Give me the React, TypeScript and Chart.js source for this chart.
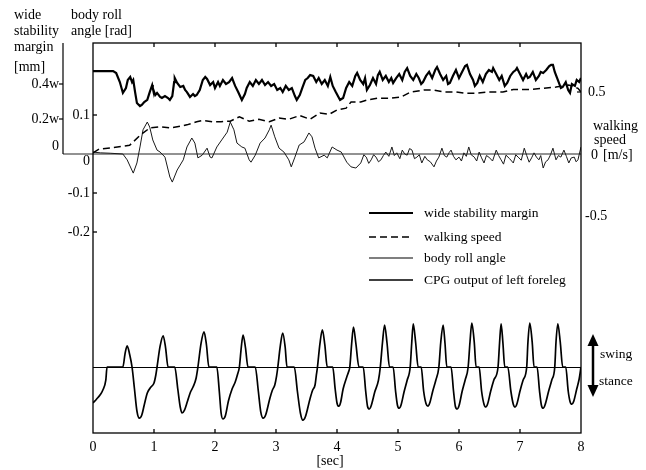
import React, { useEffect, useRef } from "react";
import { Chart, registerables } from "chart.js";

Chart.register(...registerables);

// ---------- data ----------
const timeTicks = [0, 1, 2, 3, 4, 5, 6, 7, 8];
const rollTicks = [0.1, 0, -0.1, -0.2];
const rollTickLabels = ["0.1", "0", "-0.1", "-0.2"];
const marginTicks = [0.4, 0.2, 0];
const marginTickLabels = ["0.4w", "0.2w", "0"];
const speedTicks = [0.5, 0, -0.5];
const speedTickLabels = ["0.5", "0", "-0.5"];
const legendLabels = [
  "wide stability margin",
  "walking speed",
  "body roll angle",
  "CPG output of left foreleg",
];

// [time s, margin in units of w]
const stabilityMargin: [number, number][] = [
  [0.00,0.474],[0.33,0.474],[0.38,0.463],[0.44,0.411],[0.49,0.349],[0.54,0.377],[0.57,0.423],[0.61,0.440],[0.64,0.411],[0.66,0.423],
  [0.69,0.354],[0.72,0.291],[0.77,0.274],[0.80,0.280],[0.84,0.297],[0.89,0.309],[0.93,0.354],[0.97,0.394],[0.98,0.377],[1.02,0.337],
  [1.05,0.349],[1.10,0.326],[1.13,0.320],[1.18,0.331],[1.23,0.320],[1.26,0.309],[1.30,0.331],[1.33,0.411],[1.34,0.434],[1.38,0.406],
  [1.43,0.383],[1.48,0.389],[1.51,0.366],[1.54,0.354],[1.59,0.326],[1.64,0.343],[1.67,0.331],[1.70,0.337],[1.75,0.366],[1.80,0.423],
  [1.84,0.440],[1.87,0.429],[1.92,0.394],[1.97,0.411],[2.00,0.377],[2.05,0.411],[2.08,0.389],[2.13,0.423],[2.18,0.400],[2.23,0.411],
  [2.28,0.434],[2.33,0.389],[2.38,0.354],[2.41,0.331],[2.44,0.309],[2.49,0.343],[2.52,0.377],[2.57,0.411],[2.62,0.389],[2.67,0.423],
  [2.72,0.400],[2.77,0.423],[2.82,0.394],[2.87,0.411],[2.92,0.389],[2.97,0.400],[3.02,0.366],[3.07,0.377],[3.11,0.354],[3.16,0.389],
  [3.21,0.366],[3.26,0.377],[3.31,0.331],[3.34,0.309],[3.39,0.337],[3.43,0.377],[3.48,0.423],[3.52,0.434],[3.56,0.451],[3.61,0.446],
  [3.66,0.411],[3.70,0.434],[3.75,0.400],[3.80,0.423],[3.85,0.389],[3.89,0.440],[3.93,0.389],[3.98,0.354],[4.05,0.309],[4.10,0.320],
  [4.15,0.377],[4.20,0.411],[4.25,0.389],[4.30,0.446],[4.33,0.463],[4.38,0.423],[4.43,0.400],[4.46,0.434],[4.49,0.366],[4.54,0.394],
  [4.59,0.434],[4.64,0.400],[4.67,0.451],[4.70,0.469],[4.75,0.423],[4.80,0.446],[4.85,0.411],[4.89,0.434],[4.92,0.406],[4.97,0.434],
  [5.02,0.457],[5.07,0.423],[5.11,0.469],[5.15,0.491],[5.20,0.446],[5.25,0.423],[5.30,0.457],[5.34,0.434],[5.38,0.400],[5.41,0.411],
  [5.46,0.446],[5.51,0.469],[5.56,0.434],[5.61,0.480],[5.64,0.497],[5.69,0.457],[5.74,0.423],[5.79,0.446],[5.82,0.400],[5.85,0.406],
  [5.90,0.446],[5.95,0.480],[6.00,0.434],[6.05,0.469],[6.10,0.503],[6.13,0.509],[6.18,0.457],[6.23,0.423],[6.26,0.389],[6.30,0.406],
  [6.34,0.446],[6.39,0.411],[6.44,0.457],[6.49,0.480],[6.54,0.469],[6.56,0.491],[6.61,0.457],[6.66,0.423],[6.70,0.446],[6.75,0.389],
  [6.79,0.406],[6.84,0.446],[6.89,0.469],[6.93,0.480],[6.95,0.491],[7.00,0.457],[7.05,0.423],[7.10,0.457],[7.13,0.434],[7.16,0.440],
  [7.21,0.469],[7.26,0.423],[7.31,0.446],[7.34,0.469],[7.38,0.463],[7.43,0.480],[7.48,0.503],[7.51,0.509],[7.54,0.509],[7.57,0.469],
  [7.62,0.423],[7.67,0.377],[7.70,0.383],[7.75,0.411],[7.79,0.366],[7.82,0.349],[7.85,0.400],[7.90,0.389],[7.93,0.423],[7.97,0.411],
  [8.00,0.434],
];

// [time s, speed m/s]
const walkingSpeed: [number, number][] = [
  [0,0.01],[0.1,0.04],[0.3,0.05],[0.6,0.07],[0.77,0.15],[0.93,0.21],[1.1,0.22],[1.26,0.21],[1.38,0.22],[1.54,0.235],
  [1.7,0.26],[1.8,0.27],[1.97,0.26],[2.1,0.26],[2.25,0.265],[2.4,0.30],[2.56,0.265],[2.72,0.28],[2.89,0.26],[3.05,0.29],
  [3.21,0.28],[3.39,0.31],[3.56,0.28],[3.72,0.33],[3.87,0.32],[4.0,0.355],[4.15,0.37],[4.23,0.42],[4.39,0.42],[4.49,0.435],
  [4.66,0.45],[4.89,0.45],[5.05,0.46],[5.21,0.50],[5.43,0.516],[5.59,0.516],[5.75,0.50],[5.95,0.50],[6.1,0.49],[6.28,0.49],
  [6.49,0.50],[6.72,0.50],[6.89,0.52],[7.15,0.52],[7.38,0.53],[7.59,0.54],[7.80,0.556],[7.95,0.53],[8.0,0.50],
];

// [time s, roll rad]
const bodyRoll: [number, number][] = [
  [0,0.005],[0.12,0.003],[0.28,0.002],[0.49,0],[0.56,-0.015],[0.66,-0.049],[0.72,-0.023],[0.77,0.018],[0.82,0.062],[0.89,0.082],
  [0.93,0.069],[0.98,0.036],[1.05,0.010],[1.10,0.005],[1.18,-0.008],[1.26,-0.059],[1.30,-0.072],[1.38,-0.041],[1.48,-0.015],[1.54,0.018],
  [1.62,0.041],[1.67,0.028],[1.72,-0.010],[1.79,-0.003],[1.87,0.015],[1.92,-0.008],[1.95,-0.010],[2.03,0.018],[2.11,0.036],[2.20,0.056],
  [2.25,0.082],[2.31,0.062],[2.36,0.028],[2.44,0.018],[2.49,0.015],[2.56,-0.015],[2.59,-0.021],[2.66,-0.003],[2.74,0.028],[2.82,0.041],
  [2.89,0.062],[2.92,0.074],[2.98,0.044],[3.05,0.015],[3.13,0.005],[3.21,-0.015],[3.25,-0.033],[3.31,-0.008],[3.38,0.023],[3.46,0.031],
  [3.54,0.054],[3.59,0.044],[3.64,0.015],[3.70,-0.010],[3.79,-0.003],[3.84,-0.010],[3.92,0.018],[4.00,0.010],[4.07,0.005],[4.16,-0.021],
  [4.23,-0.033],[4.31,-0.036],[4.39,-0.023],[4.44,-0.002],[4.48,-0.008],[4.52,-0.024],[4.56,-0.015],[4.60,-0.002],[4.64,-0.008],[4.68,-0.020],
  [4.72,-0.015],[4.76,-0.004],[4.80,0.005],[4.85,-0.006],[4.90,0.018],[4.94,-0.004],[4.98,0.003],[5.03,-0.012],[5.07,0.010],[5.11,0.000],
  [5.15,-0.003],[5.19,0.014],[5.23,0.010],[5.27,-0.012],[5.31,-0.008],[5.35,-0.002],[5.39,-0.023],[5.44,-0.006],[5.48,-0.015],[5.53,-0.020],
  [5.59,-0.033],[5.63,-0.018],[5.67,-0.008],[5.72,0.015],[5.76,-0.004],[5.80,-0.008],[5.84,0.004],[5.87,0.010],[5.91,-0.006],[5.95,-0.015],
  [6.00,-0.008],[6.04,-0.018],[6.08,0.003],[6.12,-0.006],[6.16,0.018],[6.20,-0.002],[6.25,-0.008],[6.29,-0.018],[6.33,0.005],[6.37,-0.010],
  [6.41,-0.023],[6.45,-0.004],[6.49,-0.008],[6.55,-0.018],[6.61,0.010],[6.65,-0.004],[6.69,-0.015],[6.73,-0.026],[6.77,-0.003],[6.83,-0.012],
  [6.89,-0.023],[6.93,-0.002],[6.97,-0.008],[7.02,-0.016],[7.07,0.015],[7.11,-0.004],[7.15,-0.021],[7.19,-0.010],[7.23,0.003],[7.27,-0.008],
  [7.31,-0.015],[7.34,-0.004],[7.38,-0.036],[7.42,-0.020],[7.46,-0.015],[7.50,-0.002],[7.54,0.015],[7.59,-0.015],[7.63,-0.004],[7.67,-0.008],
  [7.72,0.010],[7.76,-0.006],[7.80,-0.023],[7.84,-0.010],[7.89,-0.008],[7.92,-0.020],[7.95,-0.015],[8.00,0.018],
];

// [time s, CPG output (a.u.)]
const cpgOutput: [number, number][] = [
  [0.00,-0.90],[0.06,-0.80],[0.115,-0.70],[0.16,-0.58],[0.21,-0.33],[0.23,0],[0.49,0],[0.525,0.33],[0.56,0.53],[0.60,0.32],[0.64,0],
  [0.68,-0.55],[0.72,-1.10],[0.76,-1.28],[0.80,-1.20],[0.84,-0.95],[0.89,-0.65],[0.95,-0.50],[1.00,-0.40],[1.03,-0.20],[1.05,0],[1.10,0.52],[1.15,0.78],[1.19,0.48],[1.23,0],[1.34,0],
  [1.39,-0.55],[1.43,-1.00],[1.46,-1.15],[1.50,-1.08],[1.55,-0.85],[1.60,-0.62],[1.64,-0.50],[1.69,-0.28],[1.72,0],[1.77,0.58],[1.82,0.88],[1.86,0.55],[1.90,0],[2.03,0],
  [2.07,-0.60],[2.10,-1.15],[2.13,-1.30],[2.17,-1.22],[2.22,-0.85],[2.28,-0.55],[2.33,-0.38],[2.37,-0.18],[2.40,0],[2.43,0.48],[2.46,0.80],[2.50,0.48],[2.54,0],[2.66,0],
  [2.71,-0.60],[2.75,-1.12],[2.79,-1.28],[2.83,-1.20],[2.90,-0.78],[2.94,-0.58],[2.98,-0.45],[3.01,-0.22],[3.03,0],[3.07,0.52],[3.11,0.85],[3.15,0.50],[3.18,0],[3.30,0],
  [3.35,-0.60],[3.40,-1.15],[3.44,-1.33],[3.48,-1.25],[3.56,-0.78],[3.60,-0.58],[3.64,-0.45],[3.66,-0.22],[3.68,0],[3.72,0.58],[3.76,0.93],[3.80,0.56],[3.84,0],[3.93,0],
  [3.97,-0.55],[4.00,-0.90],[4.03,-0.98],[4.06,-0.88],[4.10,-0.55],[4.16,-0.25],[4.19,-0.12],[4.21,0],[4.24,0.58],[4.27,1.00],[4.31,0.58],[4.36,0],[4.43,0],
  [4.47,-0.60],[4.50,-0.98],[4.53,-1.05],[4.56,-0.97],[4.62,-0.62],[4.68,-0.33],[4.71,0],[4.745,0.60],[4.78,1.05],[4.82,0.60],[4.86,0],[4.92,0],
  [4.96,-0.60],[4.99,-0.95],[5.02,-1.03],[5.05,-0.95],[5.10,-0.62],[5.15,-0.33],[5.20,0],[5.225,0.60],[5.25,1.08],[5.29,0.60],[5.33,0],[5.38,0],
  [5.42,-0.60],[5.46,-0.92],[5.49,-0.98],[5.52,-0.90],[5.57,-0.60],[5.62,-0.33],[5.67,0],[5.70,0.60],[5.74,1.05],[5.77,0.60],[5.80,0],[5.87,0],
  [5.91,-0.60],[5.94,-0.98],[5.97,-1.05],[6.00,-0.97],[6.05,-0.62],[6.10,-0.33],[6.15,0],[6.18,0.62],[6.21,1.10],[6.25,0.62],[6.28,0],[6.33,0],
  [6.37,-0.60],[6.41,-0.93],[6.44,-1.00],[6.47,-0.92],[6.52,-0.60],[6.57,-0.33],[6.64,0],[6.665,0.60],[6.69,1.08],[6.72,0.60],[6.75,0],[6.80,0],
  [6.85,-0.60],[6.89,-0.93],[6.92,-1.00],[6.95,-0.92],[7.00,-0.60],[7.05,-0.33],[7.11,0],[7.13,0.62],[7.16,1.10],[7.20,0.62],[7.23,0],[7.28,0],
  [7.32,-0.60],[7.35,-0.95],[7.38,-1.03],[7.41,-0.95],[7.47,-0.60],[7.52,-0.33],[7.57,0],[7.59,0.62],[7.62,1.08],[7.66,0.62],[7.70,0],[7.75,0],
  [7.79,-0.60],[7.82,-0.86],[7.85,-0.93],[7.88,-0.86],[7.93,-0.55],[7.97,-0.30],[8.00,0],
];

// ---------- drawing helpers ----------
const SERIF = '"Liberation Serif", "Times New Roman", Times, serif';

function txt(ctx: CanvasRenderingContext2D, s: string, x: number, y: number, align: CanvasTextAlign = "left", size = 14) {
  ctx.font = `${size}px ${SERIF}`;
  ctx.textAlign = align;
  ctx.textBaseline = "middle";
  ctx.fillStyle = "#000";
  ctx.fillText(s, x, y);
}

function seg(ctx: CanvasRenderingContext2D, x1: number, y1: number, x2: number, y2: number) {
  ctx.beginPath();
  ctx.moveTo(x1, y1);
  ctx.lineTo(x2, y2);
  ctx.stroke();
}

const overlayPlugin = {
  id: "overlay",
  beforeDatasetsDraw(chart: any) {
    const { ctx, chartArea: a, scales } = chart;
    const y0 = scales.yRoll.getPixelForValue(0);
    const yc0 = scales.yCpg.getPixelForValue(0);
    ctx.save();
    ctx.strokeStyle = "#6e6e6e";
    ctx.lineWidth = 1.6;
    seg(ctx, a.left - 30, y0, a.right, y0);
    ctx.strokeStyle = "#000";
    ctx.lineWidth = 1;
    seg(ctx, a.left, Math.round(yc0) + 0.5, a.right, Math.round(yc0) + 0.5);
    ctx.restore();
  },
  afterDatasetsDraw(chart: any) {
    const { ctx, chartArea: a, scales } = chart;
    const sx = scales.x, yr = scales.yRoll, ym = scales.yMargin, ys = scales.ySpeed;
    ctx.save();
    ctx.strokeStyle = "#000";
    ctx.lineWidth = 1.3;
    // frame
    ctx.strokeRect(a.left, a.top, a.right - a.left, a.bottom - a.top);
    // x ticks (inward, top and bottom) and labels
    timeTicks.forEach((t) => {
      const px = sx.getPixelForValue(t);
      if (t > 0 && t < 8) {
        seg(ctx, px, a.top, px, a.top + 4);
        seg(ctx, px, a.bottom, px, a.bottom - 4);
      }
      txt(ctx, String(t), px, a.bottom + 14, "center", 14);
    });
    txt(ctx, "[sec]", 330, a.bottom + 28, "center", 14);

    // inner (roll) axis ticks & labels
    rollTicks.forEach((v, i) => {
      const py = yr.getPixelForValue(v);
      if (v !== 0) seg(ctx, a.left, py, a.left + 4, py);
      txt(ctx, rollTickLabels[i], a.left - 3, v === 0 ? py + 7 : py, "right", 14);
    });

    // outer (stability margin) axis
    const ox = a.left - 30;
    const y0 = yr.getPixelForValue(0);
    ctx.lineWidth = 1.2;
    seg(ctx, ox, a.top, ox, y0);
    marginTicks.forEach((v, i) => {
      const py = ym.getPixelForValue(v);
      if (v !== 0) seg(ctx, ox - 4, py, ox, py);
      txt(ctx, marginTickLabels[i], ox - 4, v === 0 ? py - 8 : py, "right", 14);
    });

    // right (speed) axis
    speedTicks.forEach((v, i) => {
      const py = ys.getPixelForValue(v);
      if (v > 0) seg(ctx, a.right - 4, py, a.right, py);
      const lx = v === 0 ? a.right + 10 : v < 0 ? a.right + 4 : a.right + 7;
      txt(ctx, speedTickLabels[i], lx, v === 0 ? py + 1 : py, "left", 14);
    });
    txt(ctx, "[m/s]", a.right + 22, ys.getPixelForValue(0) + 1, "left", 14);
    txt(ctx, "walking", a.right + 12, 126, "left", 14);
    txt(ctx, "speed", a.right + 13, 140, "left", 14);

    // header labels
    txt(ctx, "wide", 14, 15);
    txt(ctx, "stability", 14, 31);
    txt(ctx, "margin", 14, 47);
    txt(ctx, "[mm]", 14, 67);
    txt(ctx, "body roll", 71, 15);
    txt(ctx, "angle [rad]", 71, 31);

    // legend
    const rows = [213, 237, 258, 280];
    const ds = chart.data.datasets;
    rows.forEach((ry, i) => {
      const d = ds[i];
      ctx.save();
      ctx.strokeStyle = i === 2 ? "#555" : d.borderColor;
      ctx.lineWidth = i === 2 ? 1.3 : d.borderWidth;
      ctx.setLineDash(d.borderDash || []);
      seg(ctx, 369, ry, 413, ry);
      ctx.restore();
      txt(ctx, legendLabels[i], 424, ry, "left", 13.5);
    });

    // swing / stance arrow
    const axx = a.right + 12;
    const top = 334, bot = 397;
    ctx.lineWidth = 2.5;
    seg(ctx, axx, top + 8, axx, bot - 8);
    ctx.fillStyle = "#000";
    ctx.beginPath();
    ctx.moveTo(axx, top); ctx.lineTo(axx - 5.5, top + 12); ctx.lineTo(axx + 5.5, top + 12); ctx.closePath(); ctx.fill();
    ctx.beginPath();
    ctx.moveTo(axx, bot); ctx.lineTo(axx - 5.5, bot - 12); ctx.lineTo(axx + 5.5, bot - 12); ctx.closePath(); ctx.fill();
    txt(ctx, "swing", axx + 7, 354, "left", 13.5);
    txt(ctx, "stance", axx + 6, 381, "left", 13.5);
    ctx.restore();
  },
};

const toXY = (arr: [number, number][]) => arr.map(([x, y]) => ({ x, y }));

export default function App() {
  const ref = useRef<HTMLCanvasElement>(null);
  useEffect(() => {
    if (!ref.current) return;
    const chart = new Chart(ref.current, {
      type: "line",
      data: {
        datasets: [
          { label: legendLabels[0], data: toXY(stabilityMargin), yAxisID: "yMargin", borderColor: "#000", borderWidth: 2.2, pointRadius: 0, tension: 0, fill: false },
          { label: legendLabels[1], data: toXY(walkingSpeed), yAxisID: "ySpeed", borderColor: "#000", borderWidth: 1.5, borderDash: [7, 4], pointRadius: 0, tension: 0, fill: false },
          { label: legendLabels[2], data: toXY(bodyRoll), yAxisID: "yRoll", borderColor: "#1a1a1a", borderWidth: 1, pointRadius: 0, tension: 0, fill: false },
          { label: legendLabels[3], data: toXY(cpgOutput), yAxisID: "yCpg", borderColor: "#000", borderWidth: 1.7, pointRadius: 0, cubicInterpolationMode: "monotone", fill: false },
        ] as any,
      },
      options: {
        responsive: false,
        devicePixelRatio: 1,
        animation: false,
        layout: { padding: { left: 93, right: 65, top: 43, bottom: 37 } },
        plugins: { legend: { display: false }, tooltip: { enabled: false } },
        scales: {
          x: { type: "linear", min: 0, max: 8, display: false },
          yRoll: { type: "linear", min: -0.71538, max: 0.28462, display: false },
          yMargin: { type: "linear", min: -1.59429, max: 0.63429, display: false },
          ySpeed: { type: "linear", min: -2.25, max: 0.89516, display: false },
          yCpg: { type: "linear", min: -1.65, max: 8.1, display: false },
        },
      } as any,
      plugins: [overlayPlugin],
    });
    return () => chart.destroy();
  }, []);
  return (
    <div style={{ position: "absolute", left: 0, top: 0, width: 646, height: 470, background: "#fff" }}>
      <canvas ref={ref} width={646} height={470} style={{ display: "block", width: 646, height: 470 }} />
    </div>
  );
}
